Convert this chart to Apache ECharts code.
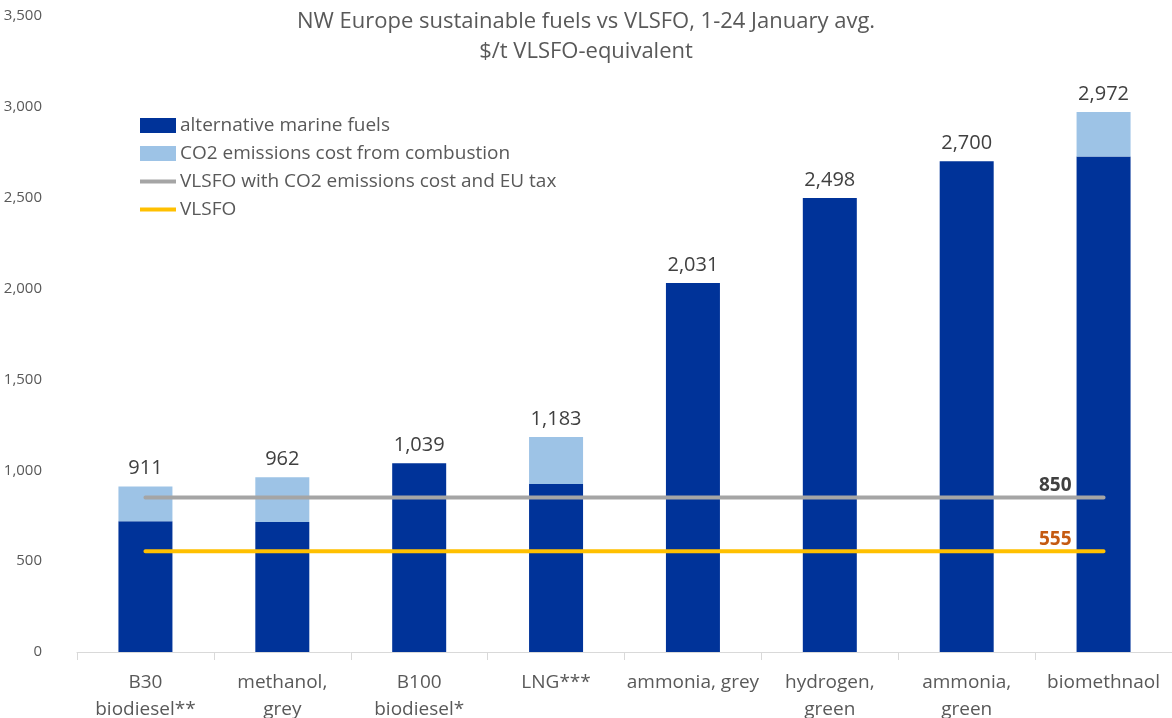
<!DOCTYPE html>
<html>
<head>
<meta charset="utf-8">
<script src="https://cdn.jsdelivr.net/npm/echarts@6/dist/echarts.min.js"></script>
<style>
  html, body { margin: 0; padding: 0; background: #fff; }
  #chart { width: 1172px; height: 718px; }
</style>
</head>
<body>
<div id="chart"></div>
<script>
// categories and values
var fuels = ["B30\nbiodiesel**", "methanol,\ngrey", "B100\nbiodiesel*", "LNG***",
  "ammonia, grey", "hydrogen,\ngreen", "ammonia,\ngreen", "biomethnaol"];
var altFuel = [719, 716, 1039, 924, 2031, 2498, 2700, 2727];
var co2Cost = [192, 246, 0, 259, 0, 0, 0, 245];
var vlsfoTax = [850, 850, 850, 850, 850, 850, 850, 850];
var vlsfo = [555, 555, 555, 555, 555, 555, 555, 555];

var FONT = "'Open Sans', sans-serif";
var LINE_ICON = "path://M0 0H36V4H0Z";

function fmt(v) {
  return String(v).replace(/\B(?=(\d{3})+(?!\d))/g, ",");
}

var myChart = echarts.init(document.getElementById("chart"));

// value label at the right end of the flat lines
function endLbl(color) {
  return {
    show: true,
    align: "right",
    verticalAlign: "bottom",
    offset: [-40, -2],
    fontFamily: FONT,
    fontSize: 19,
    fontWeight: "bold",
    color: color,
    formatter: function (p) { return fmt(p.value); }
  };
}

var option = {
  animation: false,
  title: {
    text: "NW Europe sustainable fuels vs VLSFO, 1-24 January avg.\n$/t VLSFO-equivalent",
    left: "center",
    top: 2,
    textStyle: {
      fontFamily: FONT,
      fontWeight: "normal",
      fontSize: 22,
      lineHeight: 30,
      color: "#595959"
    }
  },
  legend: {
    orient: "vertical",
    left: 140,
    top: 116,
    padding: 0,
    itemWidth: 36,
    itemHeight: 15,
    itemGap: 9,
    textStyle: { fontFamily: FONT, fontSize: 19, lineHeight: 18, color: "#595959", padding: [0, 0, 0, -1] },
    data: [
      { name: "alternative marine fuels", icon: "rect" },
      { name: "CO2 emissions cost from combustion", icon: "rect" },
      { name: "VLSFO with CO2 emissions cost and EU tax", icon: LINE_ICON },
      { name: "VLSFO", icon: LINE_ICON }
    ]
  },
  grid: { left: 77, right: 0, top: 16, bottom: 66, outerBoundsMode: "none" },
  xAxis: {
    type: "category",
    data: fuels,
    axisLine: { lineStyle: { color: "#D9D9D9" } },
    axisTick: { show: true, length: 8, lineStyle: { color: "#D9D9D9" } },
    axisLabel: {
      margin: 17,
      fontFamily: FONT,
      fontSize: 19,
      lineHeight: 27,
      color: "#595959",
      interval: 0
    }
  },
  yAxis: {
    type: "value",
    min: 0,
    max: 3500,
    interval: 500,
    splitLine: { show: false },
    axisLine: { show: false },
    axisTick: { show: false },
    axisLabel: {
      margin: 35,
      fontFamily: FONT,
      fontSize: 15,
      color: "#595959",
      formatter: function (v) { return fmt(v); }
    }
  },
  series: [
    {
      name: "alternative marine fuels",
      type: "bar",
      stack: "total",
      barWidth: 54,
      itemStyle: { color: "#003399" },
      data: altFuel
    },
    {
      name: "CO2 emissions cost from combustion",
      type: "bar",
      stack: "total",
      barWidth: 54,
      itemStyle: { color: "#9DC3E6" },
      label: {
        show: true,
        position: "top",
        distance: 8,
        fontFamily: FONT,
        fontSize: 20,
        color: "#404040",
        formatter: function (p) {
          return fmt(altFuel[p.dataIndex] + co2Cost[p.dataIndex]);
        }
      },
      data: co2Cost
    },
    {
      name: "VLSFO with CO2 emissions cost and EU tax",
      type: "line",
      symbol: "none",
      lineStyle: { color: "#A5A5A5", width: 4, cap: "round" },
      itemStyle: { color: "#A5A5A5" },
      endLabel: endLbl("#404040"),
      data: vlsfoTax
    },
    {
      name: "VLSFO",
      type: "line",
      symbol: "none",
      lineStyle: { color: "#FFC000", width: 4, cap: "round" },
      itemStyle: { color: "#FFC000" },
      endLabel: endLbl("#C55A11"),
      data: vlsfo
    }
  ]
};

option && myChart.setOption(option);
</script>
</body>
</html>
